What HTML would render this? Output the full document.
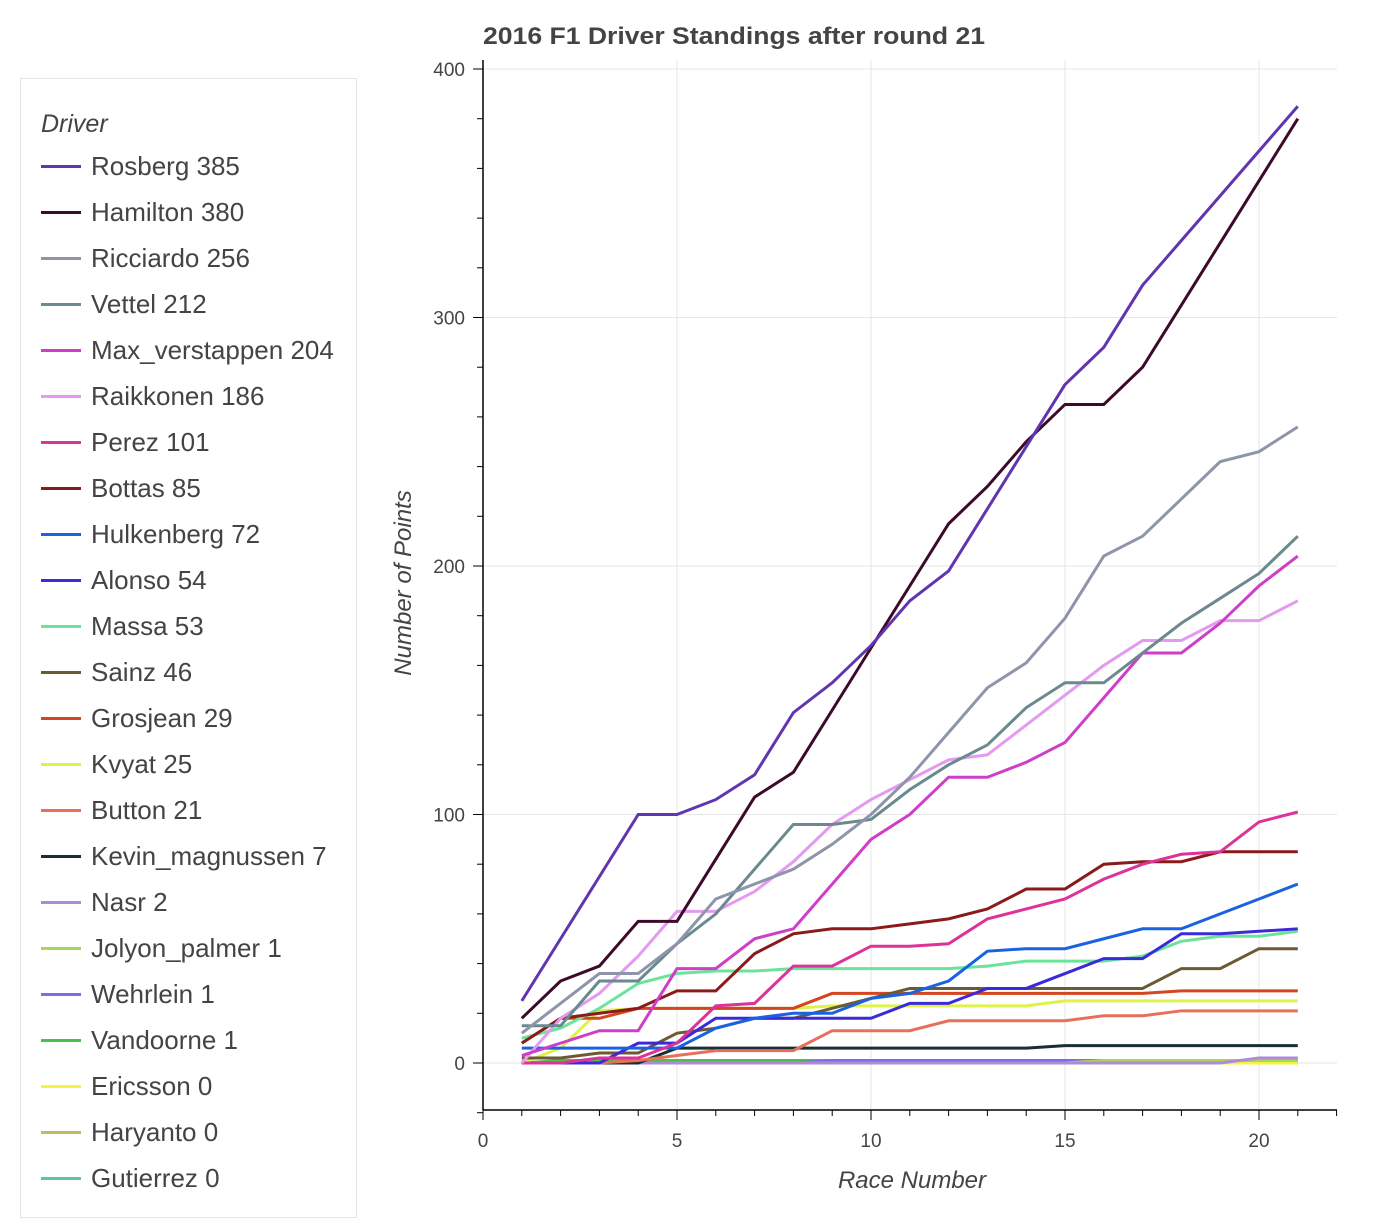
<!DOCTYPE html>
<html><head><meta charset="utf-8"><style>
body{margin:0;width:1396px;height:1200px;background:#fff;overflow:hidden;font-family:"Liberation Sans",sans-serif;}
#legend{position:absolute;left:20px;top:78px;width:337px;height:1140px;border:1px solid #e5e5e5;box-sizing:border-box;}
.lt{position:absolute;left:20px;top:31px;font-style:italic;font-size:25px;color:#444;}
.it{position:absolute;left:20px;font-size:26px;color:#444;height:46px;line-height:26px;white-space:nowrap;}
.it i{display:inline-block;width:40px;height:3px;vertical-align:middle;margin-right:10px;position:relative;top:-2px;}
svg{position:absolute;left:0;top:0;}
</style></head><body>
<div id="legend"><div class="lt">Driver</div><div id="items"></div></div>
<svg id="s" width="1396" height="1200" xmlns="http://www.w3.org/2000/svg">
<text x="483" y="44" font-size="24" font-weight="bold" fill="#444" font-family="Liberation Sans" textLength="502" lengthAdjust="spacingAndGlyphs">2016 F1 Driver Standings after round 21</text>
<text x="912" y="1188" font-size="24" font-style="italic" fill="#444" text-anchor="middle" font-family="Liberation Sans">Race Number</text>
<text transform="translate(411,583) rotate(-90)" font-size="24" font-style="italic" fill="#444" text-anchor="middle" font-family="Liberation Sans">Number of Points</text>
<g id="g"></g>
</svg>
<script>
var names=["Rosberg 385","Hamilton 380","Ricciardo 256","Vettel 212","Max_verstappen 204","Raikkonen 186","Perez 101","Bottas 85","Hulkenberg 72","Alonso 54","Massa 53","Sainz 46","Grosjean 29","Kvyat 25","Button 21","Kevin_magnussen 7","Nasr 2","Jolyon_palmer 1","Wehrlein 1","Vandoorne 1","Ericsson 0","Haryanto 0","Gutierrez 0"];
var cols=["#5f35b0","#3d0a2a","#8e95ab","#6a8a8e","#cf3ec8","#e49af0","#dd3399","#8b1a1a","#1a63e0","#3b2ad9","#6be39a","#6b5a32","#d4461f","#e0f24a","#e8705a","#1a2e33","#b18ad6","#a6d65a","#7a6ee0","#4cbf4c","#f5f53c","#c4b860","#5cc4a8"];
var z=function(n,v){var a=[];for(var i=0;i<21;i++)a.push(i>=n?v:0);return a;};
var data=[
[25,50,75,100,100,106,116,141,153,168,186,198,223,248,273,288,313,331,349,367,385],
[18,33,39,57,57,82,107,117,142,167,192,217,232,250,265,265,280,305,330,355,380],
[12,24,36,36,48,66,72,78,88,100,115,133,151,161,179,204,212,227,242,246,256],
[15,15,33,33,48,60,78,96,96,98,110,120,128,143,153,153,165,177,187,197,212],
[3,8,13,13,38,38,50,54,72,90,100,115,115,121,129,147,165,165,177,192,204],
[0,18,28,43,61,61,69,81,96,106,114,122,124,136,148,160,170,170,178,178,186],
[0,0,2,2,8,23,24,39,39,47,47,48,58,62,66,74,80,84,85,97,101],
[8,18,20,22,29,29,44,52,54,54,56,58,62,70,70,80,81,81,85,85,85],
[6,6,6,6,6,14,18,20,20,26,28,33,45,46,46,50,54,54,60,66,72],
[0,0,0,8,8,18,18,18,18,18,24,24,30,30,36,42,42,52,52,53,54],
[10,14,22,32,36,37,37,38,38,38,38,38,39,41,41,41,43,49,51,51,53],
[2,2,4,4,12,14,18,18,22,26,30,30,30,30,30,30,30,38,38,46,46],
[8,18,18,22,22,22,22,22,28,28,28,28,28,28,28,28,28,29,29,29,29],
[0,6,21,22,22,22,22,22,23,23,23,23,23,23,25,25,25,25,25,25,25],
[0,0,0,1,3,5,5,5,13,13,13,17,17,17,17,19,19,21,21,21,21],
[0,0,0,0,6,6,6,6,6,6,6,6,6,6,7,7,7,7,7,7,7],
z(19,2),z(15,1),z(8,1),z(1,1),z(21,0),z(21,0).slice(0,12),z(21,0)];
var X=function(r){return 483+38.8*r},Y=function(p){return 1063-2.485*p};
var h='';
for(var v=0;v<=20;v+=5)h+='<line x1="'+X(v)+'" x2="'+X(v)+'" y1="60" y2="1110" stroke="#e6e6e6" stroke-width="1"/>';
for(var v=0;v<=400;v+=100)h+='<line x1="483" x2="1337" y1="'+Y(v)+'" y2="'+Y(v)+'" stroke="#e6e6e6" stroke-width="1"/>';
h+='<line x1="483" x2="1337" y1="1110" y2="1110" stroke="#000" stroke-width="1.5"/>';
h+='<line x1="483" x2="483" y1="60" y2="1110" stroke="#000" stroke-width="1.5"/>';
for(var r=0;r<=22;r++){h+='<line x1="'+X(r)+'" x2="'+X(r)+'" y1="1110" y2="'+(r%5==0?1120:1116)+'" stroke="#000"/>';}
for(var v=-20;v<=400;v+=20){h+='<line x1="'+(v%100==0?473:477)+'" x2="483" y1="'+Y(v)+'" y2="'+Y(v)+'" stroke="#000"/>';}
for(var v=0;v<=20;v+=5)h+='<text x="'+X(v)+'" y="1147" font-size="19" fill="#444" text-anchor="middle" font-family="Liberation Sans">'+v+'</text>';
for(var v=0;v<=400;v+=100)h+='<text x="465" y="'+(Y(v)+7)+'" font-size="19" fill="#444" text-anchor="end" font-family="Liberation Sans">'+v+'</text>';
for(var i=data.length-1;i>=0;i--){var d=data[i],pts=[];for(var k=0;k<d.length;k++)pts.push(X(k+1)+','+Y(d[k]));
h+='<polyline fill="none" stroke="'+cols[i]+'" stroke-width="3" points="'+pts.join(' ')+'"/>';}
document.getElementById('g').innerHTML=h;
var it='';for(var i=0;i<names.length;i++)it+='<div class="it" style="top:'+(74+46*i)+'px"><i style="background:'+cols[i]+'"></i>'+names[i]+'</div>';
document.getElementById('items').innerHTML=it;
</script>
</body></html>
